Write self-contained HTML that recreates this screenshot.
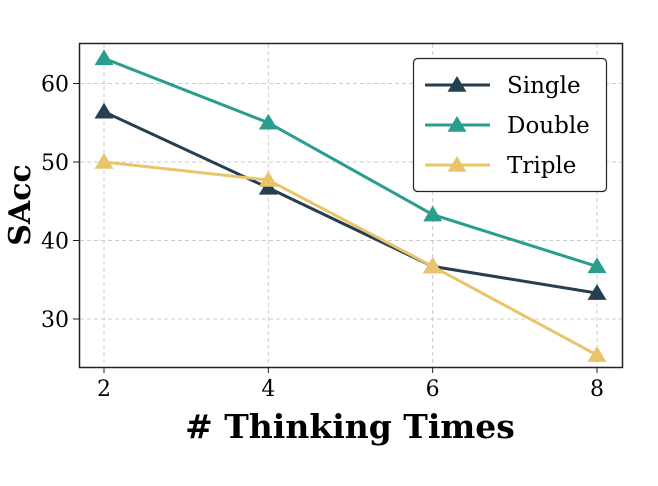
<!DOCTYPE html>
<html><head><meta charset="utf-8"><style>
html,body{margin:0;padding:0;background:#fff;}
svg{display:block;font-family:"DejaVu Serif","Liberation Serif",serif;}
</style></head><body>
<svg id="chart" width="658" height="486">
<g id="grid"></g>
<g id="series"></g>
<rect x="79.5" y="43.5" width="543" height="324" fill="none" stroke="#222" stroke-width="1.5"/>
<g id="ticks"></g>
<text x="350" y="438" text-anchor="middle" font-size="33" font-weight="bold"># Thinking Times</text>
<text transform="translate(30,205) rotate(-90)" text-anchor="middle" font-size="30" font-weight="bold">SAcc</text>
<g>
<rect x="413.5" y="58.5" width="193" height="133" rx="4" fill="#fff" stroke="#222" stroke-width="1.2"/>
<g id="legend"></g>
</g>
</svg>
<script>
const categories=[2,4,6,8];
const seriesNames=["Single","Double","Triple"];
const seriesColors=["#253f52","#2a9d8f","#e9c46a"];
const singleValues=[56.4,46.7,36.7,33.3];
const doubleValues=[63.2,55.0,43.3,36.7];
const tripleValues=[50.0,47.7,36.7,25.4];
const yTicks=[30,40,50,60];
const ns="http://www.w3.org/2000/svg";
const X=v=>104+(v-2)*(597-104)/6;
const Y=v=>162-(v-50)*7.85;
function mk(t,a,p){const e=document.createElementNS(ns,t);for(const k in a)e.setAttribute(k,a[k]);p.appendChild(e);return e;}
const grid=document.getElementById('grid'),ticks=document.getElementById('ticks'),ser=document.getElementById('series'),leg=document.getElementById('legend');
categories.forEach(c=>{
 const l=mk('line',{x1:X(c),x2:X(c),y1:44,y2:367,stroke:'#ccc','stroke-dasharray':'4,3'},grid);
 
 
 const tk=mk('line',{x1:X(c),x2:X(c),y1:367,y2:373,stroke:'#222'},ticks);
 
 
 const t=mk('text',{x:X(c),y:396,'text-anchor':'middle','font-size':22},ticks);t.textContent=c;
 
 
});
yTicks.forEach(v=>{
 const l=mk('line',{x1:80,x2:622,y1:Y(v),y2:Y(v),stroke:'#ccc','stroke-dasharray':'4,3'},grid);
 
 
 const tk=mk('line',{x1:73,x2:79,y1:Y(v),y2:Y(v),stroke:'#222'},ticks);
 
 
 const t=mk('text',{x:69,y:Y(v)+8,'text-anchor':'end','font-size':22},ticks);t.textContent=v;
 
 
});
function tri(x,y,s){return `${x},${y-s} ${x-s*1.05},${y+s*0.75} ${x+s*1.05},${y+s*0.75}`;}
[singleValues,doubleValues,tripleValues].forEach((vals,i)=>{
 const g=mk('g',{},ser);
 
 
 const p=mk('polyline',{points:vals.map((v,j)=>X(categories[j])+','+Y(v)).join(' '),fill:'none',stroke:seriesColors[i],'stroke-width':3},g);
 
 
 vals.forEach((v,j)=>{
  const m=mk('polygon',{points:tri(X(categories[j]),Y(v),9),fill:seriesColors[i]},g);
  
  
 });
 const ly=85+i*40;
 const e=mk('g',{},leg);
 
 
 mk('line',{x1:425,x2:490,y1:ly,y2:ly,stroke:seriesColors[i],'stroke-width':3},e);
 mk('polygon',{points:tri(457,ly,9),fill:seriesColors[i]},e);
 const t=mk('text',{x:507,y:ly+8,'font-size':23},e);t.textContent=seriesNames[i];
});
</script>
</body></html>
